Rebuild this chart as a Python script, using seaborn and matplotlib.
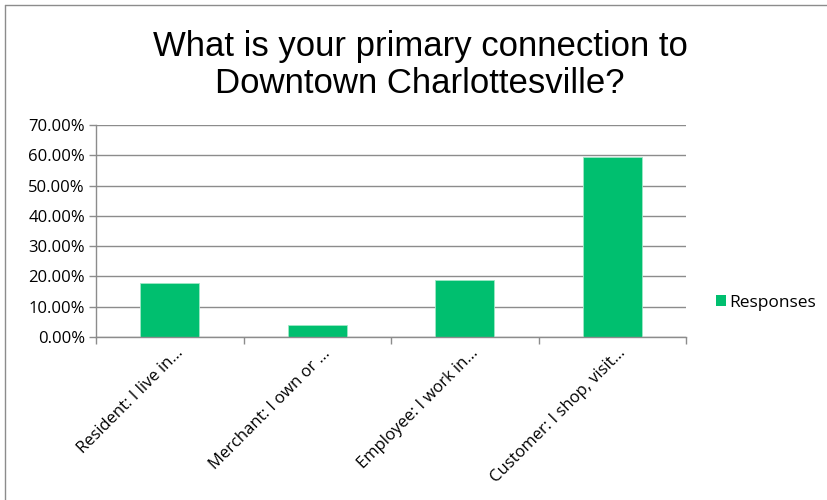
import matplotlib
matplotlib.use("Agg")
import matplotlib.pyplot as plt
from matplotlib.ticker import FuncFormatter, FixedLocator
from matplotlib.patches import Patch
from matplotlib.lines import Line2D
from matplotlib.transforms import ScaledTranslation
import seaborn as sns
import pandas as pd

categories = ["Resident: I live in...", "Merchant: I own or ...",
              "Employee: I work in...", "Customer: I shop, visit..."]
responses = [17.88, 3.87, 18.67, 59.27]
series_name = "Responses"
title = "What is your primary connection to\nDowntown Charlottesville?"

sns.set_theme(style="white")
plt.rcParams['font.family'] = ['Open Sans', 'DejaVu Sans']
plt.rcParams['text.color'] = 'black'

df = pd.DataFrame({"category": categories, "value": responses})

W, H = 827, 500
fig = plt.figure(figsize=(W / 100, H / 100), dpi=100)
ax = fig.add_axes([96 / W, 1 - 337 / H, (686 - 96) / W, (337 - 125) / H])

green = "#00BF6F"
sns.barplot(data=df, x="category", y="value", color=green, width=0.40,
            saturation=1, ax=ax, edgecolor="#9FE8C6", linewidth=0.6)

ax.set_ylim(0, 70)
ax.set_xlim(-0.5, len(categories) - 0.5)
ax.set_yticks(range(0, 71, 10))
ax.yaxis.set_major_formatter(FuncFormatter(lambda v, p: f"{v:.2f}%"))
ax.grid(axis="y", color="#8c8c8c", linewidth=1.0)
ax.set_axisbelow(True)
ax.set_xlabel("")
ax.set_ylabel("")

for s in ["top", "right"]:
    ax.spines[s].set_visible(False)
for s in ["left", "bottom"]:
    ax.spines[s].set_color("#8c8c8c")
    ax.spines[s].set_linewidth(1.0)

ax.tick_params(axis="y", which="major", length=5, color="#8c8c8c", width=1,
               labelsize=12, pad=3, left=True, labelcolor="black")
ax.set_xticks(range(len(categories)))
ax.set_xticklabels(categories, rotation=45, ha="right", va="center",
                   rotation_mode="anchor", fontsize=12)
ax.tick_params(axis="x", which="major", length=0, pad=10, labelcolor="black")
offset = ScaledTranslation(11 / 100, 0, fig.dpi_scale_trans)
for lab in ax.get_xticklabels():
    lab.set_transform(lab.get_transform() + offset)
ax.xaxis.set_minor_locator(FixedLocator([i - 0.5 for i in range(len(categories) + 1)]))
ax.tick_params(axis="x", which="minor", length=5, color="#8c8c8c", width=1, bottom=True)

fig.text(420 / W, 1 - 65 / H, title, ha="center", va="center", fontsize=25,
         family=["Liberation Sans", "DejaVu Sans"], linespacing=1.12, color="black")

handle = Patch(facecolor=green, edgecolor="none", label=series_name)
leg = fig.legend(handles=[handle], loc="center left", bbox_to_anchor=(716 / W, 1 - 303 / H),
                 frameon=False, fontsize=12.5, handlelength=0.6, handleheight=0.6,
                 handletextpad=0.15, borderaxespad=0, borderpad=0)
for t in leg.get_texts():
    t.set_color("black")

fig.add_artist(Line2D([5 / W, 5 / W], [0, 1 - 5 / H], transform=fig.transFigure,
                      color="#8c8c8c", linewidth=1.0))
fig.add_artist(Line2D([5 / W, 1], [1 - 5 / H, 1 - 5 / H], transform=fig.transFigure,
                      color="#8c8c8c", linewidth=1.0))

fig.savefig("out.png", dpi=100, facecolor="white")
